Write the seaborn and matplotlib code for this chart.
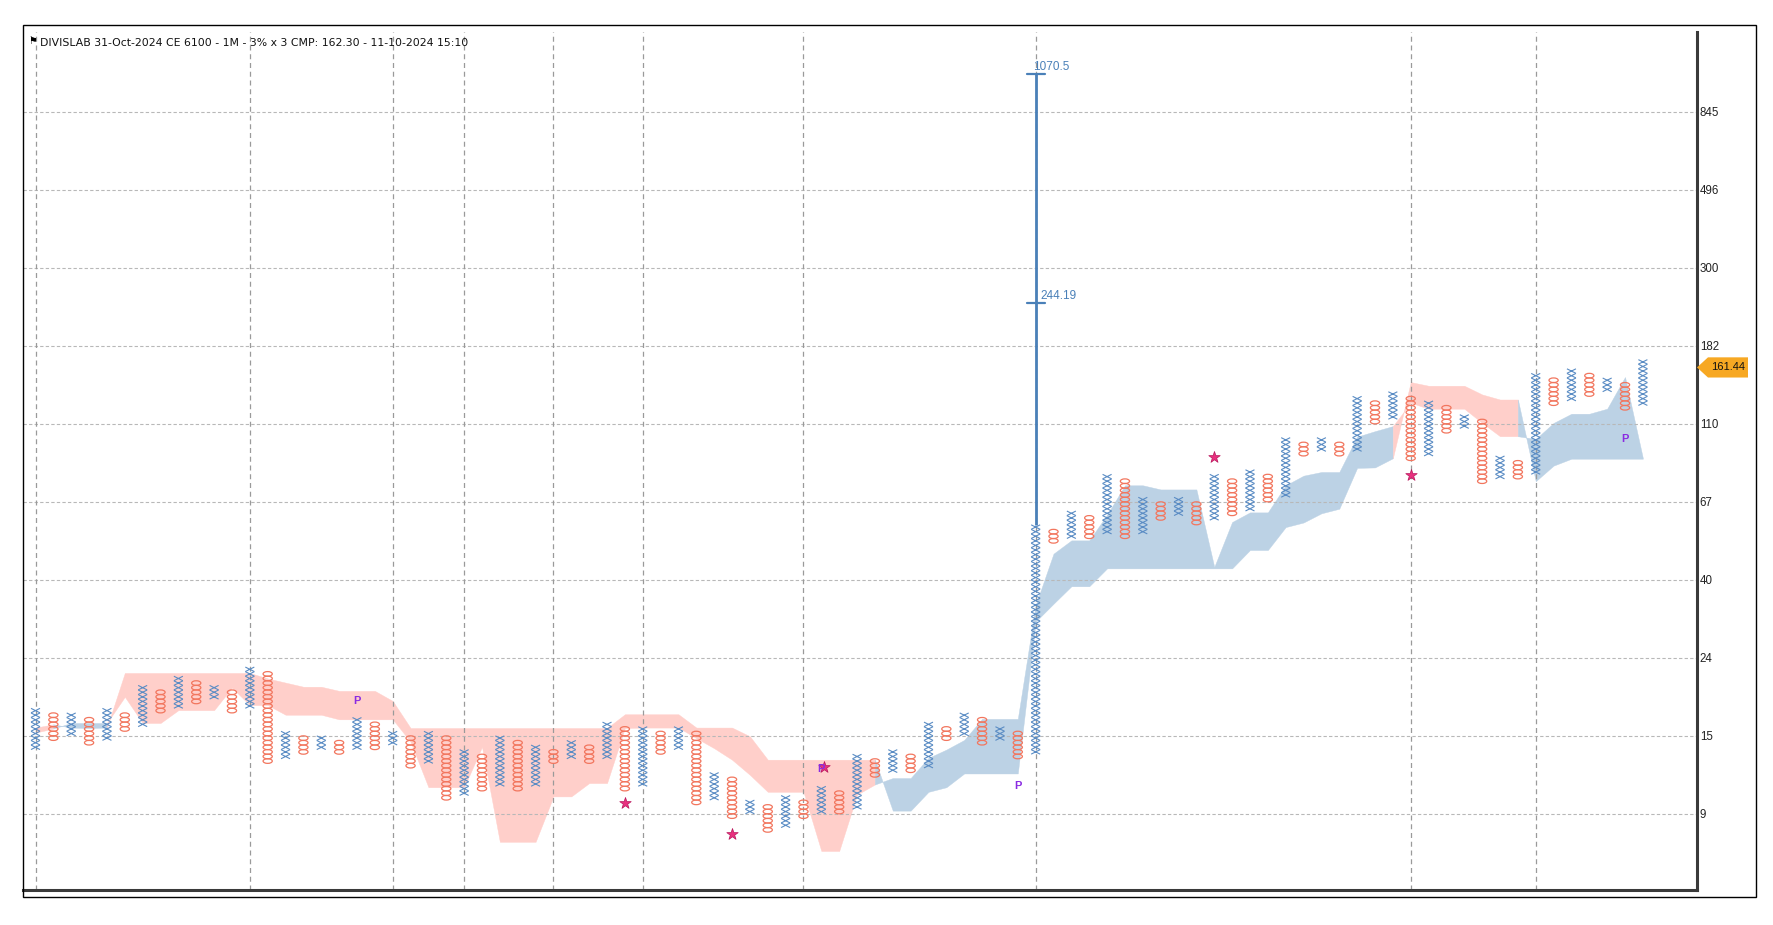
import numpy as np
import pandas as pd
import matplotlib
matplotlib.use("Agg")
import matplotlib.pyplot as plt
from matplotlib.path import Path
from matplotlib.patches import Rectangle, Polygon
import matplotlib.transforms as mtransforms
import seaborn as sns

# ---------------- data ----------------
title = "DIVISLAB 31-Oct-2024 CE 6100 - 1M - 3% x 3 CMP: 162.30 - 11-10-2024 15:10"
base_price = 9.1
box_pct = 3.0
y_tick_boxes = [0, 17, 34, 51, 68, 85, 102, 119, 136, 153]
y_tick_labels = ["9", "15", "24", "40", "67", "110", "182", "300", "496", "845"]

# Point & Figure columns (box indices), alternating X / O
col_type = ["X", "O"] * 45 + ["X"]
col_low = [14, 16, 17, 15, 16, 18, 19, 22, 23, 24,
           25, 22, 23, 11, 12, 13, 14, 13, 14, 14,
           15, 10, 11, 3, 4, 5, 6, 5, 6, 11,
           12, 11, 12, 5, 6, 13, 14, 2, 3, -1,
           0, -4, -3, -1, 0, 0, 1, 8, 9, 9,
           10, 16, 17, 15, 16, 12, 13, 59, 60, 60,
           61, 60, 61, 64, 65, 63, 64, 65, 66, 68,
           69, 78, 79, 78, 79, 85, 86, 77, 78, 83,
           84, 72, 73, 73, 74, 89, 90, 91, 92, 88,
           89]
col_high = [22, 21, 21, 20, 22, 21, 27, 26, 29, 28,
            27, 26, 31, 30, 17, 16, 16, 15, 20, 19,
            17, 16, 17, 16, 13, 12, 16, 15, 14, 13,
            15, 14, 19, 18, 18, 17, 18, 17, 8, 7,
            2, 1, 3, 2, 5, 4, 12, 11, 13, 12,
            19, 18, 21, 20, 18, 17, 62, 61, 65, 64,
            73, 72, 68, 67, 68, 67, 73, 72, 74, 73,
            81, 80, 81, 80, 90, 89, 91, 90, 89, 88,
            86, 85, 77, 76, 95, 94, 96, 95, 94, 93,
            98]

# cloud spans (box units); pink where span_b > span_a
span_a = [17.7, 18.6, 19.8, 19.8, 19.8, 25.5, 19.8, 19.8, 22.6, 22.6,
          22.6, 27.5, 23.7, 23.7, 21.6, 21.6, 21.6, 20.6, 20.6, 20.6,
          20.6, 15.7, 5.8, 5.8, 5.8, 14.6, -6.1, -6.1, -6.1, 3.8,
          3.8, 6.7, 6.7, 18.7, 18.8, 18.8, 18.8, 16.5, 14.3, 11.8,
          8.5, 4.8, 4.8, 4.8, -8.1, -8.1, 4.2, 6.4, 7.8, 7.8,
          12.2, 14.0, 16.1, 20.7, 20.7, 20.7, 45.5, 56.7, 59.6, 59.6,
          65.2, 71.6, 71.6, 70.7, 70.7, 70.7, 53.8, 63.6, 65.7, 65.7,
          71.6, 73.7, 74.5, 74.5, 82.2, 83.4, 84.5, 89.6, 88.3, 88.3,
          88.3, 85.2, 82.3, 82.3, 81.7, 85.2, 87.2, 87.2, 88.3, 95.2,
          77.5]
span_b = [18.8, 19.5, 18.8, 18.7, 18.8, 30.7, 30.7, 30.7, 30.7, 30.7,
          30.7, 30.7, 30.7, 29.5, 28.6, 27.7, 27.7, 26.8, 26.8, 26.8,
          24.6, 18.7, 18.7, 18.7, 18.7, 18.7, 18.7, 18.7, 18.7, 18.7,
          18.7, 18.7, 18.7, 21.7, 21.7, 21.7, 21.7, 18.8, 18.8, 18.8,
          16.9, 11.8, 11.8, 11.8, 11.8, 11.8, 11.8, 11.8, 0.7, 0.7,
          4.8, 5.8, 8.8, 8.8, 8.8, 8.8, 41.9, 45.8, 49.6, 49.6,
          53.5, 53.5, 53.5, 53.5, 53.5, 53.5, 53.5, 53.5, 57.5, 57.5,
          62.5, 63.5, 65.5, 66.5, 75.4, 75.5, 77.5, 94.1, 93.3, 93.3,
          93.3, 91.4, 90.3, 90.3, 72.5, 75.9, 77.4, 77.4, 77.4, 77.4,
          77.4]

star_cols = [33, 39, 44.15, 66, 77]
star_boxes = [2.4, -4.5, 10.1, 77.7, 73.9]
p_cols = [18, 44, 55, 89]
p_boxes = [24.6, 9.8, 6.0, 81.6]

grid_cols = [0, 12, 20, 24, 29, 34, 43, 56, 77, 84]

target_col = 56
target_prices = [244.19, 1070.5]
target_labels = ["244.19", "1070.5"]
last_price = 161.44

# ---------------- style ----------------
sns.set_style("white")
plt.rcParams['font.family'] = ['Liberation Sans', 'DejaVu Sans']

X_COLOR = "#5a8cc4"
O_COLOR = "#f2765e"
PINK = "#ffcfca"
BLUE = "#bcd2e5"
TARGET_COLOR = "#4a80b8"


def price_to_box(p):
    return np.log(p / base_price) / np.log(1 + box_pct / 100.0)


W, H = 1774, 925
fig = plt.figure(figsize=(W / 100, H / 100), dpi=100)
ax_left, ax_right, ax_bottom, ax_top = 23, 1697, 890, 32
ax = fig.add_axes([ax_left / W, (H - ax_bottom) / H,
                   (ax_right - ax_left) / W, (ax_bottom - ax_top) / H])

n = len(col_type)
xs = np.arange(n)
A = np.array(span_a)
B = np.array(span_b)

# cloud: each segment coloured by the sign at its right end
seg_pink = [B[i + 1] > A[i + 1] for i in range(n - 1)]
start = 0
for i in range(1, n):
    if i == n - 1 or seg_pink[i] != seg_pink[start]:
        color = PINK if seg_pink[start] else BLUE
        ax.fill_between(xs[start:i + 1], A[start:i + 1], B[start:i + 1],
                        color=color, lw=0.3, ec=color, zorder=1)
        start = i

# grid lines
for yb in y_tick_boxes:
    ax.axhline(yb, color="#b8b8b8", lw=0.8, ls=(0, (3, 2)), zorder=1.5)
for c in grid_cols:
    ax.axvline(c, color="#9a9a9a", lw=0.9, ls=(0, (4, 3)), zorder=1.5)

# P&F symbols
rows = []
for c in range(n):
    for b in range(col_low[c], col_high[c] + 1):
        rows.append((c, b + 0.5, col_type[c]))
df = pd.DataFrame(rows, columns=["col", "box", "kind"])

xpath = Path([(-1, -0.5), (1, 0.5), (-1, 0.5), (1, -0.5)],
             [Path.MOVETO, Path.LINETO, Path.MOVETO, Path.LINETO])
circ = Path.unit_circle()
opath = Path(circ.vertices * np.array([1.0, 0.5]), circ.codes)

sns.scatterplot(data=df[df.kind == "X"], x="col", y="box", marker=xpath, s=42,
                facecolor="none", edgecolor=X_COLOR, linewidth=0.8, ax=ax,
                zorder=3, legend=False)
sns.scatterplot(data=df[df.kind == "O"], x="col", y="box", marker=opath, s=44,
                facecolor="none", edgecolor=O_COLOR, linewidth=0.9, ax=ax,
                zorder=3, legend=False)

# stars and P signals
ax.scatter(star_cols, star_boxes, marker="*", s=75, color="#e8317f",
           edgecolor="#b8145a", linewidth=0.5, zorder=4)
for c, b in zip(p_cols, p_boxes):
    ax.text(c, b, "P", color="#8a2be2", fontsize=8, fontweight="bold",
            ha="center", va="center", zorder=5)

# target line
tb = [price_to_box(p) for p in target_prices]
ax.plot([target_col, target_col], [col_high[target_col] + 1, max(tb)],
        color=TARGET_COLOR, lw=2, zorder=4, solid_capstyle="butt")
for yb, lab, dx in zip(tb, target_labels, [0.25, -0.15]):
    ax.plot([target_col - 0.5, target_col + 0.5], [yb, yb], color=TARGET_COLOR,
            lw=1.6, zorder=4)
    ax.text(target_col + dx, yb + 0.2, lab, color=TARGET_COLOR, fontsize=8.5,
            ha="left", va="bottom", zorder=5)

# axes styling
ax.set_xlim(-0.70, 93.03)
ax.set_ylim(-16.6, 170.4)
ax.set_yticks(y_tick_boxes)
ax.set_yticklabels(y_tick_labels)
ax.yaxis.tick_right()
ax.tick_params(axis="y", length=0, pad=2, labelsize=8.3, labelcolor="#222222")
ax.set_xticks([])
ax.set_xlabel("")
ax.set_ylabel("")
for s in ["top", "left"]:
    ax.spines[s].set_visible(False)
for s in ["right", "bottom"]:
    ax.spines[s].set_color("#3a3a3a")
    ax.spines[s].set_linewidth(2.2)

# outer frame
fig.add_artist(Rectangle((22.6 / W, (H - 897) / H), (1756 - 22.6) / W, (897 - 25) / H,
                         transform=fig.transFigure, fill=False, ec="black", lw=1.0))

# title with flag icon
fig.text(28 / W, 1 - 41 / H, "\u2691", fontsize=7, family="DejaVu Sans",
         ha="left", va="center", color="black")
fig.text(40 / W, 1 - 42.5 / H, title, fontsize=7.8, family="DejaVu Sans",
         ha="left", va="center", color="#111111")

# last price tag
yc = price_to_box(last_price)
trans = mtransforms.blended_transform_factory(fig.transFigure, ax.transData)
hh = 2.2
tag = Polygon([(1697 / W, yc), (1708 / W, yc + hh), (1748 / W, yc + hh),
               (1748 / W, yc - hh), (1708 / W, yc - hh)], closed=True,
              transform=trans, fc="#f7a823", ec="none", clip_on=False, zorder=6)
ax.add_artist(tag)
ax.text(1728 / W, yc, f"{last_price:.2f}", transform=trans, fontsize=8,
        ha="center", va="center", color="#111111", zorder=7, clip_on=False)

fig.savefig("out.png", dpi=100)
